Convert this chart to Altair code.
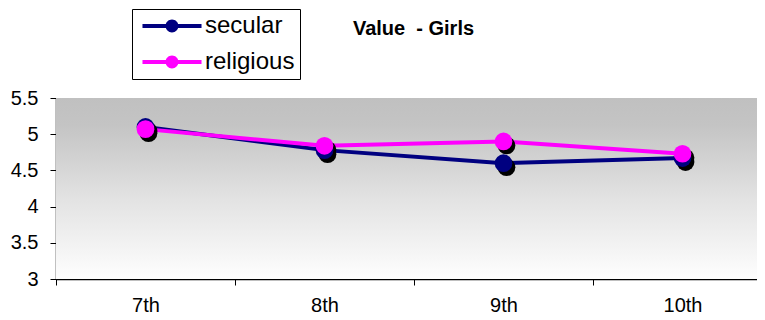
import altair as alt
import pandas as pd

grades = ["7th", "8th", "9th", "10th"]
secular = [5.10, 4.78, 4.60, 4.67]
religious = [5.07, 4.84, 4.90, 4.73]
series_names = ["secular", "religious"]
series_colors = ["#000080", "#FF00FF"]
y_ticks = [3, 3.5, 4, 4.5, 5, 5.5]
title_text = "Value\u00a0 - Girls"

df = pd.DataFrame({
    "grade": grades * 2,
    "value": secular + religious,
    "series": [series_names[0]] * len(grades) + [series_names[1]] * len(grades),
    "order": list(range(2 * len(grades))),
})

FONT = "Liberation Sans"
W, H = 701, 181

x_enc = alt.X(
    "grade:N", sort=grades,
    scale=alt.Scale(range=[0, 716], paddingInner=0, paddingOuter=0),
    axis=alt.Axis(title=None, labelAngle=0, tickBand="extent", labelFontSize=20,
                  labelFont=FONT, labelColor="black", labelPadding=26,
                  labelBaseline="alphabetic", tickSize=6,
                  tickColor="black", domainColor="black", domainWidth=1.5, grid=False),
)
y_scale = alt.Scale(domain=[y_ticks[0], y_ticks[-1]], nice=False, zero=False)
y_axis = alt.Axis(title=None, values=y_ticks, format="~g", labelFontSize=20, labelFont=FONT,
                  labelColor="black", labelPadding=12, tickSize=6, tickColor="black",
                  domainColor="black", domainWidth=1.5, grid=True, gridColor="#000000",
                  gridWidth=1, labelOverlap=False,
                  gridOpacity=alt.condition("datum.value == 5.5", alt.value(0), alt.value(0.85)))
y_enc = alt.Y("value:Q", scale=y_scale, axis=y_axis)

bg = alt.Chart(df).mark_rect(
    fill=alt.Gradient(
        gradient="linear", x1=0, x2=0, y1=0, y2=1,
        stops=[alt.GradientStop(offset=0, color="#c0c0c0"),
               alt.GradientStop(offset=0.15, color="#c4c4c4"),
               alt.GradientStop(offset=0.55, color="#e2e2e2"),
               alt.GradientStop(offset=1, color="#fefefe")],
    ),
).encode(
    x=alt.value(0), x2=alt.value("width"),
    y=alt.Y(datum=y_ticks[-1], type="quantitative", scale=y_scale, axis=y_axis),
    y2=alt.Y2(datum=y_ticks[0]),
)

base = alt.Chart(df).encode(x=x_enc, y=y_enc)

lines = []
for name, col in zip(series_names, series_colors):
    lines.append(
        base.transform_filter(alt.datum.series == name)
        .mark_line(color=col, strokeWidth=4)
    )

shadow = base.mark_point(filled=True, size=314, color="black", opacity=1, xOffset=3, yOffset=4)

legend_path = ("M-2.46,-0.17H2.46V0.17H-2.46Z "
               "M-0.54,0A0.54,0.54 0 1,1 0.54,0A0.54,0.54 0 1,1 -0.54,0Z")

points = base.mark_point(filled=True, size=314, opacity=1).encode(
    color=alt.Color(
        "series:N",
        scale=alt.Scale(domain=series_names, range=series_colors),
        legend=alt.Legend(
            title=None, orient="none", legendX=76, legendY=-89,
            symbolType=legend_path, symbolSize=576, symbolStrokeWidth=0,
            symbolOffset=23, labelOffset=21, labelFontSize=24, labelFont=FONT,
            labelColor="black", padding=5, rowPadding=12,
            strokeColor="black", fillColor="white", symbolOpacity=1,
        ),
    ),
    order=alt.Order("order:Q"),
)

chart = alt.layer(bg, *lines, shadow, points).properties(
    width=W, height=H,
    title=alt.TitleParams(title_text, fontSize=20, fontWeight="bold", font=FONT,
                          color="black", anchor="middle", frame="group",
                          baseline="alphabetic", offset=-46, dx=7),
    autosize=alt.AutoSizeParams(type="none"),
    padding={"left": 48, "top": 90, "right": 0, "bottom": 37},
).configure_view(
    stroke="transparent",
).configure(background="white")

chart.save("out.html", embed_options={"renderer": "svg", "actions": False})
